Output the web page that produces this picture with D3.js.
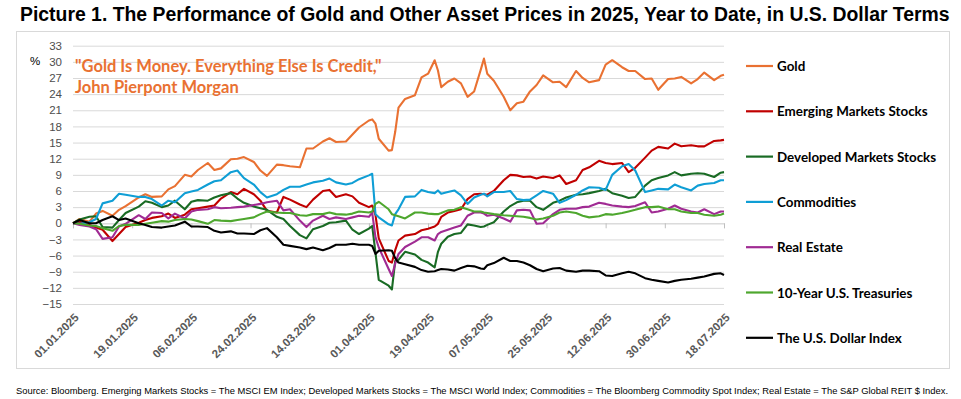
<!DOCTYPE html>
<html lang="en">
<head>
    <meta charset="UTF-8">
    <title>Gold and other assets 2025</title>
    <script src="https://cdn.jsdelivr.net/npm/d3@7/dist/d3.min.js"></script>
    <style>
        body { margin: 0; background: #fff; }
        svg { display: block; }
    </style>
</head>
<body>
    <svg width="961" height="399"></svg>

    <script>
        // observation dates (trading days, roughly every 2-3 days)
        const dates = [
            '2025-01-01','2025-01-03','2025-01-06','2025-01-08','2025-01-10','2025-01-13','2025-01-15','2025-01-17','2025-01-21','2025-01-23',
            '2025-01-25','2025-01-28','2025-01-30','2025-02-01','2025-02-04','2025-02-06','2025-02-08','2025-02-11','2025-02-13','2025-02-15',
            '2025-02-18','2025-02-20','2025-02-22','2025-02-25','2025-02-27','2025-03-01','2025-03-04','2025-03-06','2025-03-08','2025-03-11',
            '2025-03-13','2025-03-15','2025-03-18','2025-03-20','2025-03-22','2025-03-25','2025-03-27','2025-03-29','2025-04-01','2025-04-02',
            '2025-04-03','2025-04-04','2025-04-07','2025-04-08','2025-04-09','2025-04-10','2025-04-12','2025-04-15','2025-04-17','2025-04-19',
            '2025-04-21','2025-04-22','2025-04-23','2025-04-25','2025-04-27','2025-04-29','2025-05-01','2025-05-03','2025-05-05','2025-05-06',
            '2025-05-07','2025-05-09','2025-05-12','2025-05-14','2025-05-16','2025-05-18','2025-05-20','2025-05-22','2025-05-24','2025-05-27',
            '2025-05-29','2025-05-31','2025-06-03','2025-06-05','2025-06-07','2025-06-10','2025-06-12','2025-06-14','2025-06-17','2025-06-19',
            '2025-06-21','2025-06-24','2025-06-26','2025-06-28','2025-07-01','2025-07-03','2025-07-05','2025-07-08','2025-07-10','2025-07-12',
            '2025-07-15','2025-07-17','2025-07-18'
        ];

        const gold = [
            0, 0.8, 0.3, 1.8, 2.3, 1.4, 2.5, 3.2, 4.8, 5.4,
            4.9, 5.0, 6.3, 6.9, 9.0, 8.7, 9.9, 11.2, 9.9, 10.2,
            11.9, 12.0, 12.3, 11.4, 9.8, 8.8, 10.9, 10.8, 10.6, 10.4,
            13.9, 13.9, 15.2, 15.8, 15.1, 15.2, 16.5, 17.8, 19.1, 19.3,
            18.5, 15.7, 13.5, 13.6, 17.0, 21.5, 23.1, 23.8, 27.1, 27.8,
            30.3, 28.4, 25.3, 26.3, 26.9, 26.0, 23.5, 24.5, 28.5, 30.6,
            27.8, 26.5, 23.5, 21.0, 22.3, 22.6, 24.5, 25.7, 27.5, 26.2,
            26.3, 25.3, 28.3, 27.0, 26.2, 26.6, 29.5, 30.3, 29.0, 28.3,
            28.3, 26.8, 26.9, 24.8, 26.8, 26.9, 27.2, 26.0, 26.8, 28.0,
            26.6, 27.4, 27.6
        ];
        const emStocks = [
            0, 0.3, -0.3, -0.8, -1.2, -3.3, -2.0, -0.7, 0.1, 0.6,
            1.0, 1.3, 1.8, 1.0, 1.6, 2.6, 2.8, 3.1, 3.3, 4.6,
            5.8, 5.4, 6.4, 5.4, 4.2, 2.3, 2.0, 4.9, 4.4, 3.5,
            3.0, 4.4, 6.0, 6.2, 4.9, 5.4, 5.0, 3.8, 3.0, 3.3,
            1.5, -2.8, -7.0, -7.3, -5.0, -3.2, -2.3, -2.0, -1.3, -1.0,
            -0.6, -0.1, 1.2, 2.0, 2.3, 2.6, 4.5, 5.4, 5.5, 5.4,
            5.3, 6.0, 8.0, 9.0, 8.9, 8.6, 8.7, 8.3, 8.7, 8.4,
            8.9, 7.3, 8.0, 9.9, 10.4, 11.6, 11.2, 11.0, 11.2, 9.5,
            10.3, 12.2, 13.5, 14.2, 13.9, 14.8, 14.3, 14.5, 14.3, 14.3,
            15.3, 15.4, 15.5
        ];
        const dmStocks = [
            0, 0.7, 1.2, 1.3, -0.7, -0.8, 0.6, 1.9, 3.1, 4.1,
            3.8, 3.0, 3.3, 4.2, 2.6, 4.0, 4.3, 4.2, 4.8, 5.2,
            5.6, 4.6, 3.8, 3.1, 2.8, 2.5, 1.2, 0.8, -0.5, -2.2,
            -2.8, -1.1, -0.5, 0.1, 0.2, 0.5, -1.2, -2.0, -1.0, -0.5,
            -5.5, -10.5, -11.6, -12.3, -7.0, -6.8, -5.3, -5.8, -6.8, -7.3,
            -8.2, -5.3, -3.8, -2.5, -2.0, -1.8, -0.2, -0.4, -0.7, -0.6,
            -0.3, 0.2, 2.2, 3.2, 3.9, 4.2, 4.2, 3.0, 2.5, 3.8,
            4.2, 4.8, 5.3, 5.4, 5.6, 6.0, 6.4, 5.6, 5.1, 4.7,
            4.9, 7.0, 8.0, 8.4, 8.9, 9.5, 8.9, 9.2, 9.3, 9.2,
            8.6, 9.4, 9.5
        ];
        const commodities = [
            0, -0.1, 0.2, 0.8, 3.7, 4.2, 5.5, 5.3, 4.9, 4.9,
            4.5, 3.3, 4.2, 3.9, 5.6, 5.9, 6.2, 7.2, 7.8, 8.0,
            9.5, 9.8, 8.4, 7.2, 5.8, 4.8, 5.4, 6.2, 6.8, 6.8,
            7.2, 7.6, 7.9, 8.3, 7.6, 7.2, 7.5, 8.2, 8.9, 9.2,
            1.7, 1.1, -0.2, -0.4, 1.7, 2.6, 4.9, 5.0, 6.2, 5.8,
            5.6, 6.1, 5.5, 5.8, 6.1, 5.2, 3.6, 4.8, 5.3, 5.5,
            5.0, 5.8, 5.8, 6.0, 4.5, 4.3, 4.4, 5.2, 6.0, 5.5,
            3.8, 4.3, 5.3, 6.1, 6.7, 6.6, 6.2, 9.0, 10.6, 11.0,
            9.8, 5.8, 6.1, 6.4, 6.3, 7.2, 6.7, 6.1, 7.0, 7.3,
            7.5, 8.0, 8.0
        ];
        const realEstate = [
            0, -0.3, -0.6, -1.1, -2.9, -2.6, -0.6, -0.1, 1.5, 0.8,
            2.0, 1.9, 0.9, 1.8, 0.9, 2.2, 2.5, 2.6, 3.0, 2.8,
            2.9, 3.0, 3.1, 3.4, 3.6, 3.9, 4.2, 2.4, 2.6, 0.5,
            -0.7, 0.5, 1.4, 0.8, 1.1, 0.8, 1.1, 1.4, 1.2, 2.0,
            -2.6, -4.5, -8.5, -9.8, -7.5, -5.7, -4.4, -3.4, -2.6, -2.6,
            -3.2, -2.0, -1.6, -1.2, -0.8, -0.4, 1.4, 2.0, 2.0, 1.8,
            1.4, 1.6, 0.9, 0.3, 2.4, 2.5, 2.4, -0.1, 0.0, 1.7,
            2.5, 2.7, 2.7, 3.0, 3.1, 3.8, 3.6, 3.3, 3.1, 3.0,
            3.2, 3.9, 2.0, 2.2, 2.7, 3.3, 2.7, 2.2, 2.0, 2.6,
            1.7, 2.2, 2.2
        ];
        const treasuries = [
            0, -0.1, -0.4, -0.5, -0.9, -1.4, -0.5, -0.3, -0.3, -0.1,
            0.1, 0.4, 0.3, 0.6, 0.8, 0.7, 0.4, -0.1, 0.6, 0.5,
            0.4, 0.6, 0.8, 1.1, 1.7, 2.2, 2.0, 1.9, 1.9, 1.5,
            1.4, 1.7, 1.7, 2.0, 1.7, 1.6, 1.8, 2.2, 2.0, 2.2,
            3.6, 4.0, 2.6, 1.7, 1.5, 1.3, 0.9, 2.0, 2.0, 1.8,
            1.7, 1.7, 1.9, 2.4, 2.5, 3.0, 2.6, 2.2, 2.2, 2.0,
            1.9, 1.7, 1.5, 1.4, 1.3, 1.2, 1.0, 0.7, 0.9, 1.4,
            2.0, 2.2, 1.9, 1.4, 1.1, 1.3, 1.7, 1.6, 1.9, 2.2,
            2.5, 3.0, 3.0, 3.1, 2.6, 2.6, 2.2, 1.9, 1.9, 1.6,
            1.4, 1.6, 1.8
        ];
        const dollarIndex = [
            0, 0.6, 0.0, 0.0, 0.6, 1.3, 0.6, 0.9, 0.0, -0.3,
            -0.7, -0.8, -0.6, -0.4, 0.3, -0.6, -0.6, -0.7, -1.4, -1.7,
            -1.5, -1.9, -1.9, -2.0, -1.3, -0.9, -2.6, -4.0, -4.2, -4.5,
            -4.8, -4.5, -5.0, -4.6, -4.0, -4.0, -3.8, -4.0, -4.0, -4.2,
            -5.7, -5.1, -5.0, -5.1, -6.5, -7.3, -7.6, -8.1, -8.7, -9.0,
            -8.9, -8.7, -8.5, -8.6, -8.8, -8.3, -7.9, -8.0, -8.4, -8.5,
            -7.8, -7.4, -6.4, -7.0, -7.0, -7.3, -7.8, -8.5, -8.9, -8.4,
            -8.3, -8.8, -9.0, -8.8, -8.8, -8.9, -9.7, -9.8, -9.3, -9.0,
            -9.3, -10.2, -10.5, -10.7, -11.0, -10.7, -10.5, -10.3, -10.1, -9.9,
            -9.4, -9.3, -9.6
        ];

        const seriesNames = [
            'Gold', 'Emerging Markets Stocks', 'Developed Markets Stocks', 'Commodities',
            'Real Estate', '10-Year U.S. Treasuries', 'The U.S. Dollar Index'
        ];
        const seriesValues = [gold, emStocks, dmStocks, commodities, realEstate, treasuries, dollarIndex];
        const seriesColors = ['#E97132', '#C00000', '#196B24', '#0F9ED5', '#A02B93', '#4EA72E', '#000000'];

        const xTickLabels = ['01.01.2025', '19.01.2025', '06.02.2025', '24.02.2025', '14.03.2025', '01.04.2025',
            '19.04.2025', '07.05.2025', '25.05.2025', '12.06.2025', '30.06.2025', '18.07.2025'];
        const yTicks = [-15, -12, -9, -6, -3, 0, 3, 6, 9, 12, 15, 18, 21, 24, 27, 30, 33];

        const titleText = 'Picture 1. The Performance of Gold and Other Asset Prices in 2025, Year to Date, in U.S. Dollar Terms';
        const quoteLines = ['"Gold Is Money. Everything Else Is Credit,"', 'John Pierpont Morgan'];
        const sourceText = 'Source: Bloomberg. Emerging Markets Stocks = The MSCI EM Index; Developed Markets Stocks = The MSCI World Index; Commodities = The Bloomberg Commodity Spot Index; Real Estate = The S&P Global REIT $ Index.';

        const parseDate = d3.utcParse('%Y-%m-%d');
        const parseTick = d3.utcParse('%d.%m.%Y');
        const fmtTick = d3.utcFormat('%d.%m.%Y');

        const svg = d3.select('svg');
        const axisFont = '"Liberation Sans", Arial, sans-serif';
        const labelFont = 'Lato, "Open Sans", sans-serif';

        // title
        svg.append('text')
            .attr('x', 20).attr('y', 21)
            .attr('font-family', axisFont)
            .attr('font-weight', 'bold')
            .attr('font-size', 19.4)
            .attr('fill', '#000')
            .text(titleText);

        // chart frame
        svg.append('rect')
            .attr('x', 16.5).attr('y', 31.5)
            .attr('width', 933).attr('height', 337)
            .attr('fill', '#fff')
            .attr('stroke', '#D9D9D9');

        const x = d3.scaleUtc()
            .domain([parseTick(xTickLabels[0]), parseTick(xTickLabels[xTickLabels.length - 1])])
            .range([73, 724]);
        const y = d3.scaleLinear()
            .domain([-15, 33])
            .range([304, 45.7]);

        // gridlines + y labels
        const yAxis = svg.append('g')
            .attr('transform', `translate(${x.range()[0]},0)`)
            .call(d3.axisLeft(y).tickValues(yTicks).tickSize(-(x.range()[1] - x.range()[0])).tickPadding(11));
        yAxis.select('.domain').remove();
        yAxis.selectAll('line').attr('stroke', '#D9D9D9');
        yAxis.selectAll('text')
            .attr('font-family', axisFont)
            .attr('font-size', 11.5)
            .attr('fill', '#4D4D4D');

        svg.append('text')
            .attr('x', 30).attr('y', 64.5)
            .attr('font-family', axisFont)
            .attr('font-size', 11.5)
            .attr('fill', '#000')
            .text('%');

        // tick marks on the zero line
        const xTickDates = xTickLabels.map(parseTick);
        const zeroAxis = svg.append('g')
            .attr('transform', `translate(0,${y(0)})`)
            .call(d3.axisBottom(x).tickValues(xTickDates).tickSize(5).tickFormat(''));
        zeroAxis.select('.domain').attr('stroke', '#D9D9D9');
        zeroAxis.selectAll('line').attr('stroke', '#BFBFBF');

        // rotated date labels at the bottom
        const xAxis = svg.append('g')
            .attr('transform', `translate(0,${y(-15)})`)
            .call(d3.axisBottom(x).tickValues(xTickDates).tickSize(0).tickFormat(fmtTick));
        xAxis.select('.domain').remove();
        xAxis.selectAll('text')
            .attr('font-family', axisFont)
            .attr('font-size', 11.5)
            .attr('font-weight', 'bold')
            .attr('fill', '#595959')
            .attr('text-anchor', 'end')
            .attr('dy', 0)
            .attr('transform', 'translate(4,12) rotate(-45)');

        // lines
        const parsedDates = dates.map(parseDate);
        const line = d3.line()
            .x((d, i) => x(parsedDates[i]))
            .y(d => y(d));

        svg.append('g').selectAll('path')
            .data(seriesValues)
            .enter().append('path')
            .attr('fill', 'none')
            .attr('stroke', (d, i) => seriesColors[i])
            .attr('stroke-width', 2.1)
            .attr('stroke-linejoin', 'round')
            .attr('d', d => line(d));

        // quote
        svg.append('g').selectAll('text')
            .data(quoteLines)
            .enter().append('text')
            .attr('x', 75)
            .attr('y', (d, i) => 71.5 + i * 21.5)
            .attr('font-family', labelFont)
            .attr('font-weight', 700)
            .attr('font-size', 16.5)
            .attr('fill', '#E97132')
            .text(d => d);

        // legend
        const legend = svg.append('g').selectAll('g')
            .data(seriesNames)
            .enter().append('g')
            .attr('transform', (d, i) => `translate(746,${66 + i * 45.3})`);
        legend.append('line')
            .attr('x1', 0).attr('x2', 27)
            .attr('stroke', (d, i) => seriesColors[i])
            .attr('stroke-width', 2.2);
        legend.append('text')
            .attr('x', 31).attr('y', 5)
            .attr('font-family', labelFont)
            .attr('font-weight', 700)
            .attr('font-size', 13.4)
            .attr('fill', '#000')
            .text(d => d);

        // source
        svg.append('text')
            .attr('x', 16).attr('y', 394)
            .attr('font-family', axisFont)
            .attr('font-size', 9.4)
            .attr('fill', '#000')
            .text(sourceText);
    </script>
</body>
</html>
